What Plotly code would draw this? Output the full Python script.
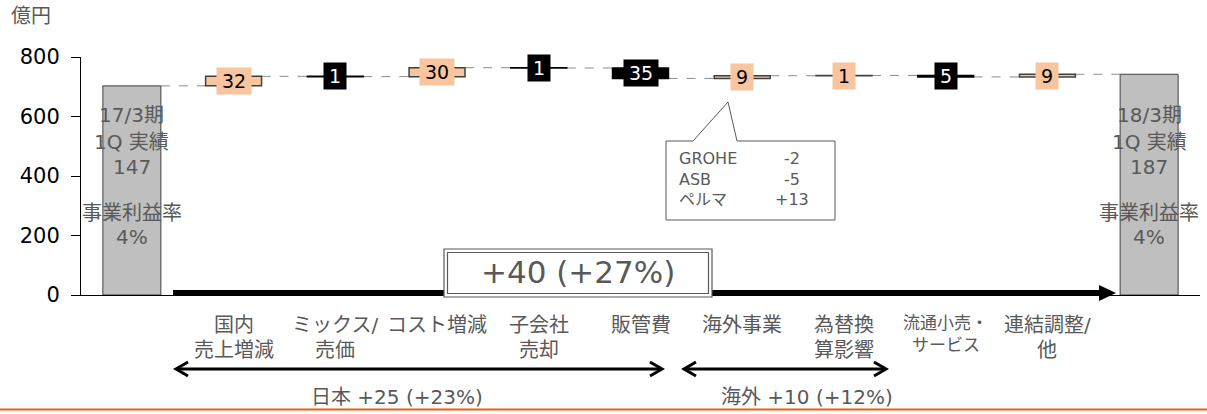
import plotly.graph_objects as go

# ---------------- data ----------------
categories = ["17/3期 1Q 実績", "国内|売上増減", "ミックス/|売価", "コスト増減", "子会社|売却",
              "販管費", "海外事業", "為替換|算影響", "流通小売・|サービス", "連結調整/|他", "18/3期 1Q 実績"]
start_value = 703
deltas = [32, -1, 30, -1, -35, 9, 1, -5, 9]
end_value = 742
delta_labels = ["32", "1", "30", "1", "35", "9", "1", "5", "9"]
y_ticks = [0, 200, 400, 600, 800]
start_text = ["17/3期", "1Q 実績", "147"]
end_text = ["18/3期", "1Q 実績", "187"]
margin_text = ["事業利益率", "4%"]
callout_names = ["GROHE", "ASB", "ペルマ"]
callout_values = ["-2", "-5", "+13"]
total_text = "+40 (+27%)"
japan_text = "日本 +25 (+23%)"
overseas_text = "海外 +10 (+12%)"
unit_text = "億円"

# ---------------- layout constants ----------------
W, H = 1207, 414
ML, MR, MT, MB = 81, 7, 57, 119
PW = W - ML - MR
PH = H - MT - MB
FONT = "DejaVu Sans, Noto Sans CJK JP, sans-serif"
GRAY = "#595959"
ORANGE = "#F8C59E"
TOT_W = 0.57
D_W = 0.55


def xp(px):
    return (px - ML) / PW


def yp(py):
    return (MT + PH - py) / PH


# ---------------- derived ----------------
levels = [start_value]
for d in deltas:
    levels.append(levels[-1] + d)
n = len(categories)
xs = list(range(n))
bases = [min(levels[i], levels[i + 1]) for i in range(len(deltas))]
heights = [abs(d) for d in deltas]
fills = [ORANGE if d > 0 else "#000000" for d in deltas]
lines = ["#404040" if d > 0 else "#000000" for d in deltas]

fig = go.Figure()
fig.add_trace(go.Bar(x=[0, n - 1], y=[start_value, end_value], width=TOT_W,
                     marker=dict(color="#BFBFBF", line=dict(color="#404040", width=1)),
                     hoverinfo="skip"))
fig.add_trace(go.Bar(x=xs[1:n - 1], y=heights, base=bases, width=D_W,
                     marker=dict(color=fills, line=dict(color=lines, width=1.5)),
                     hoverinfo="skip"))

shapes = []
annotations = []

# dashed connectors
widths = [TOT_W] + [D_W] * len(deltas) + [TOT_W]
for i in range(n - 1):
    shapes.append(dict(type="line", xref="x", yref="y",
                       x0=i + widths[i] / 2, x1=i + 1 - widths[i + 1] / 2,
                       y0=levels[i], y1=levels[i],
                       line=dict(color="#8C8C8C", width=1, dash="dash"), layer="below"))

# delta labels
for i, d in enumerate(deltas):
    lab = delta_labels[i]
    annotations.append(dict(x=i + 1, y=(levels[i] + levels[i + 1]) / 2, xref="x", yref="y",
                            text=lab, showarrow=False,
                            font=dict(family=FONT, size=19, color="#000000" if d > 0 else "#FFFFFF"),
                            bgcolor=ORANGE if d > 0 else "#000000",
                            width=12 * len(lab) + 8, height=24, borderpad=1,
                            xanchor="center", yanchor="middle"))

# text in total bars
line_y = [115, 141.5, 167]
for j, t in enumerate(start_text):
    annotations.append(dict(x=0, y=yp(line_y[j]), xref="x", yref="paper", text=t, showarrow=False,
                            font=dict(family=FONT, size=20, color=GRAY), xanchor="center", yanchor="middle"))
for j, t in enumerate(end_text):
    annotations.append(dict(x=n - 1, y=yp(line_y[j]), xref="x", yref="paper", text=t, showarrow=False,
                            font=dict(family=FONT, size=20, color=GRAY), xanchor="center", yanchor="middle"))
m_y = [213, 237]
for j, t in enumerate(margin_text):
    for xx in (0, n - 1):
        annotations.append(dict(x=xx, y=yp(m_y[j]), xref="x", yref="paper", text=t, showarrow=False,
                                font=dict(family=FONT, size=20, color=GRAY), xanchor="center", yanchor="middle"))

# category labels
for i, c in enumerate(categories[1:n - 1], start=1):
    parts = c.split("|")
    small = c.startswith("流通")
    size = 17 if small else 20
    ys = [323, 345] if small else [325, 350]
    for k, p in enumerate(parts):
        annotations.append(dict(x=i, y=yp(ys[k]), xref="x", yref="paper", text=p, showarrow=False,
                                font=dict(family=FONT, size=size, color=GRAY),
                                xanchor="center", yanchor="middle"))

# unit
annotations.append(dict(x=xp(31), y=yp(16), xref="paper", yref="paper", text=unit_text, showarrow=False,
                        font=dict(family=FONT, size=20, color=GRAY), xanchor="center", yanchor="middle"))

# big arrow
shapes.append(dict(type="rect", xref="paper", yref="paper", x0=xp(173), x1=xp(1101), y0=yp(296), y1=yp(290),
                   fillcolor="#000000", line=dict(width=0), layer="above"))
shapes.append(dict(type="path", xref="paper", yref="paper",
                   path=f"M {xp(1099)},{yp(285)} L {xp(1116)},{yp(293)} L {xp(1099)},{yp(301)} Z",
                   fillcolor="#000000", line=dict(width=0), layer="above"))

# total box (double border)
shapes.append(dict(type="rect", xref="paper", yref="paper", x0=xp(444), x1=xp(712), y0=yp(297), y1=yp(249),
                   fillcolor="#FFFFFF", line=dict(color=GRAY, width=1.2), layer="above"))
shapes.append(dict(type="rect", xref="paper", yref="paper", x0=xp(447.5), x1=xp(708.5), y0=yp(293.5), y1=yp(252.5),
                   line=dict(color=GRAY, width=1.2), layer="above"))
annotations.append(dict(x=xp(578), y=yp(272), xref="paper", yref="paper", text=total_text, showarrow=False,
                        font=dict(family=FONT, size=31, color=GRAY), xanchor="center", yanchor="middle"))

# callout
cp = [(666, 141), (693, 141), (728, 102), (737, 141), (835, 141), (835, 220), (666, 220)]
path = "M " + " L ".join(f"{xp(a)},{yp(b)}" for a, b in cp) + " Z"
shapes.append(dict(type="path", xref="paper", yref="paper", path=path, fillcolor="#FFFFFF",
                   line=dict(color="#595959", width=1), layer="above"))
c_y = [158, 179, 199]
for j in range(len(callout_names)):
    annotations.append(dict(x=xp(677), y=yp(c_y[j]), xref="paper", yref="paper", text=callout_names[j],
                            showarrow=False, font=dict(family=FONT, size=16, color=GRAY),
                            xanchor="left", yanchor="middle"))
    annotations.append(dict(x=xp(792), y=yp(c_y[j]), xref="paper", yref="paper", text=callout_values[j],
                            showarrow=False, font=dict(family=FONT, size=16, color=GRAY),
                            xanchor="center", yanchor="middle"))


# double arrows
def dbl_arrow(x0, x1, y):
    shapes.append(dict(type="line", xref="paper", yref="paper", x0=xp(x0 + 1), x1=xp(x1 - 1), y0=yp(y), y1=yp(y),
                       line=dict(color="#000000", width=3)))
    for tip, back in ((x0, x0 + 12), (x1, x1 - 12)):
        shapes.append(dict(type="path", xref="paper", yref="paper",
                           path=f"M {xp(back)},{yp(y - 7)} L {xp(tip)},{yp(y)} L {xp(back)},{yp(y + 7)}",
                           line=dict(color="#000000", width=3)))


dbl_arrow(176, 662, 369)
dbl_arrow(684, 886, 369)
annotations.append(dict(x=xp(397), y=yp(397), xref="paper", yref="paper", text=japan_text, showarrow=False,
                        font=dict(family=FONT, size=20, color=GRAY), xanchor="center", yanchor="middle"))
annotations.append(dict(x=xp(807), y=yp(397), xref="paper", yref="paper", text=overseas_text, showarrow=False,
                        font=dict(family=FONT, size=20, color=GRAY), xanchor="center", yanchor="middle"))

# orange rule at bottom
shapes.append(dict(type="line", xref="paper", yref="paper", x0=xp(0), x1=xp(W), y0=yp(409.5), y1=yp(409.5),
                   line=dict(color="#E5600C", width=2)))

fig.update_layout(
    width=W, height=H, margin=dict(l=ML, r=MR, t=MT, b=MB),
    paper_bgcolor="#FFFFFF", plot_bgcolor="#FFFFFF",
    showlegend=False, barmode="overlay",
    shapes=shapes, annotations=annotations,
    font=dict(family=FONT, size=20, color="#000000"),
    xaxis=dict(range=[-0.5, n - 0.5], showticklabels=False, showgrid=False, zeroline=False,
               showline=True, linecolor="#000000", linewidth=1, ticks="", fixedrange=True),
    yaxis=dict(range=[0, 800], tickvals=y_ticks, showgrid=False, zeroline=False,
               showline=True, linecolor="#000000", linewidth=1, ticks="outside", ticklen=9,
               tickcolor="#000000", tickfont=dict(family=FONT, size=21, color="#000000"),
               ticklabelstandoff=7, fixedrange=True),
)

fig.write_html("out.html")
